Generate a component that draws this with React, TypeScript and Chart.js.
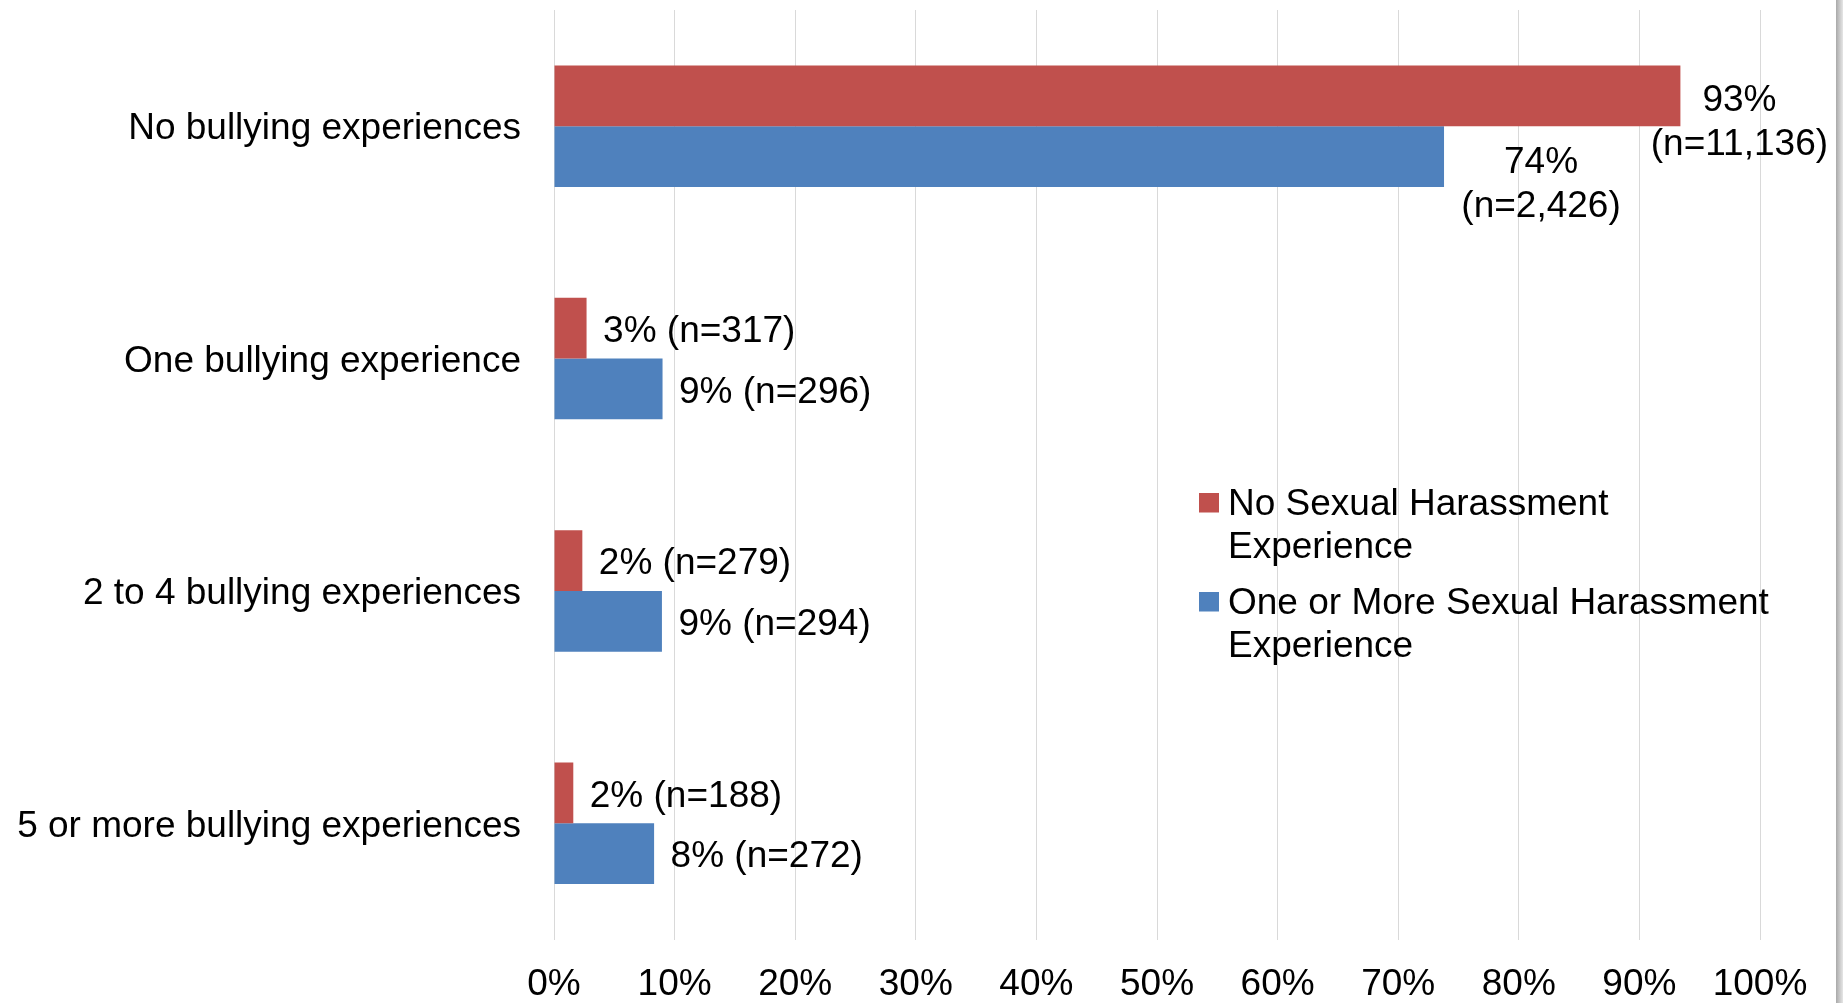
import React, { useEffect, useRef } from "react";
import { Chart, registerables } from "chart.js";

Chart.register(...registerables);

// ---- data ----
const categories = [
  "No bullying experiences",
  "One bullying experience",
  "2 to 4 bullying experiences",
  "5 or more bullying experiences",
];
const seriesNames = [
  "No Sexual Harassment Experience",
  "One or More Sexual Harassment Experience",
];
const noHarassmentPct = [93.4, 2.7, 2.35, 1.6];
const someHarassmentPct = [73.8, 9.0, 8.95, 8.3];
const noHarassmentLabels = ["93%", "3%", "2%", "2%"];
const noHarassmentN = ["11,136", "317", "279", "188"];
const someHarassmentLabels = ["74%", "9%", "9%", "8%"];
const someHarassmentN = ["2,426", "296", "294", "272"];
const legendLines = [
  ["No Sexual Harassment", "Experience"],
  ["One or More Sexual Harassment", "Experience"],
];
const xMin = 0;
const xMax = 100;
const xStep = 10;

// ---- styles ----
const FONT = '"Liberation Sans", Arial, Helvetica, sans-serif';
const FONT_SIZE = 37;
const RED = "#C0504D";
const BLUE = "#4F81BD";
const GRID = "#d9d9d9";
const W = 1843;
const H = 1003;

const pctLabels = [noHarassmentLabels, someHarassmentLabels];
const nLabels = [noHarassmentN, someHarassmentN];
// offsets for the two-line labels of the first category (relative to bar end / centre)
const twoLineOffsets = [
  { dx: 59, dy1: 5, dy2: 49 },
  { dx: 97, dy1: 6.5, dy2: 50 },
];

const labelPlugin = {
  id: "barLabels",
  afterDatasetsDraw(chart: any) {
    const ctx = chart.ctx;
    ctx.save();
    ctx.font = `${FONT_SIZE}px ${FONT}`;
    ctx.fillStyle = "#000";
    chart.data.datasets.forEach((_ds: any, di: number) => {
      const meta = chart.getDatasetMeta(di);
      meta.data.forEach((bar: any, i: number) => {
        const pct = pctLabels[di][i];
        const n = nLabels[di][i];
        if (i === 0) {
          const o = twoLineOffsets[di];
          ctx.textAlign = "center";
          ctx.textBaseline = "middle";
          ctx.fillText(pct, bar.x + o.dx, bar.y + o.dy1);
          ctx.fillText(`(n=${n})`, bar.x + o.dx, bar.y + o.dy2);
        } else {
          ctx.textAlign = "left";
          ctx.textBaseline = "middle";
          ctx.fillText(`${pct} (n=${n})`, bar.x + 16.5, bar.y + 3.5);
        }
      });
    });
    ctx.restore();
  },
};

const legendPlugin = {
  id: "customLegend",
  afterDraw(chart: any) {
    const ctx = chart.ctx;
    ctx.save();
    const colors = [RED, BLUE];
    const squareX = 1199;
    const textX = 1228;
    const rowTop = [493, 592];
    const lineGap = 43;
    ctx.font = `${FONT_SIZE}px ${FONT}`;
    ctx.textAlign = "left";
    ctx.textBaseline = "alphabetic";
    legendLines.forEach((lines, k) => {
      ctx.fillStyle = colors[k];
      ctx.fillRect(squareX, rowTop[k], 20, 19.5);
      ctx.fillStyle = "#000";
      lines.forEach((line, j) => {
        ctx.fillText(line, textX, rowTop[k] + 22 + j * lineGap);
      });
    });
    // thin grey frame edge at the right of the picture
    const g = ctx.createLinearGradient(W - 7, 0, W, 0);
    g.addColorStop(0, "#a9a9a9");
    g.addColorStop(1, "#e6e6e6");
    ctx.fillStyle = g;
    ctx.fillRect(W - 7, 0, 7, H);
    ctx.restore();
  },
};

export default function App() {
  const ref = useRef<HTMLCanvasElement | null>(null);

  useEffect(() => {
    document.body.style.margin = "0";
    const canvas = ref.current;
    if (!canvas) return;
    const chart = new Chart(canvas, {
      type: "bar",
      data: {
        labels: categories,
        datasets: [
          {
            label: seriesNames[0],
            data: noHarassmentPct,
            backgroundColor: RED,
            borderWidth: 0,
            categoryPercentage: 0.5224,
            barPercentage: 1,
          },
          {
            label: seriesNames[1],
            data: someHarassmentPct,
            backgroundColor: BLUE,
            borderWidth: 0,
            categoryPercentage: 0.5224,
            barPercentage: 1,
          },
        ],
      },
      options: {
        indexAxis: "y",
        responsive: false,
        animation: false,
        devicePixelRatio: 1,
        layout: { padding: { left: 0, right: 83, top: 10, bottom: 0 } },
        plugins: {
          legend: { display: false },
          tooltip: { enabled: false },
        },
        scales: {
          x: {
            min: xMin,
            max: xMax,
            ticks: {
              stepSize: xStep,
              callback: (v: any) => `${v}%`,
              color: "#000",
              font: { family: FONT, size: FONT_SIZE },
              padding: 23.5,
              maxRotation: 0,
            },
            grid: { color: GRID, lineWidth: 1, drawTicks: false },
            border: { display: false },
            afterFit: (scale: any) => {
              scale.height = 63.5;
            },
          },
          y: {
            ticks: {
              color: "#000",
              font: { family: FONT, size: FONT_SIZE },
              padding: 33,
              labelOffset: 3,
            },
            grid: { display: false, drawTicks: false },
            border: { display: false },
            afterFit: (scale: any) => {
              scale.width = 554;
              scale.paddingTop = 0;
              scale.paddingBottom = 0;
            },
          },
        },
      },
      plugins: [labelPlugin, legendPlugin],
    });
    return () => chart.destroy();
  }, []);

  return (
    <div style={{ position: "fixed", left: 0, top: 0, width: W, height: H, background: "#fff" }}>
      <canvas ref={ref} width={W} height={H} style={{ width: W, height: H, display: "block" }} />
    </div>
  );
}
